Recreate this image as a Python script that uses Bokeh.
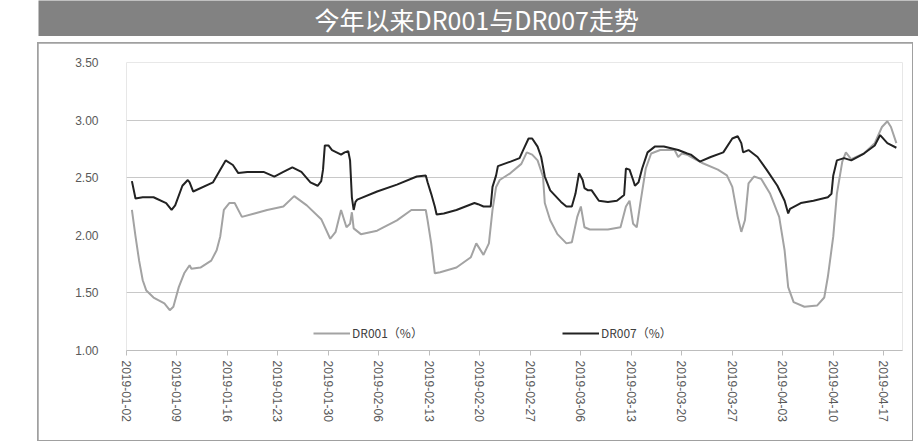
import pandas as pd
from bokeh.plotting import figure
from bokeh.layouts import column
from bokeh.models import (Range1d, FixedTicker, DatetimeTickFormatter, NumeralTickFormatter,
                          Legend, LegendItem)
from bokeh.core.properties import value
from bokeh.embed import file_html
from bokeh.resources import INLINE

title_text = "今年以来DR001与DR007走势"
name_dr001 = "DR001（%）"
name_dr007 = "DR007（%）"

tick_dates = ["2019-01-02", "2019-01-09", "2019-01-16", "2019-01-23", "2019-01-30",
              "2019-02-06", "2019-02-13", "2019-02-20", "2019-02-27", "2019-03-06",
              "2019-03-13", "2019-03-20", "2019-03-27", "2019-04-03", "2019-04-10",
              "2019-04-17"]
y_ticks = [1.0, 1.5, 2.0, 2.5, 3.0, 3.5]
grid_levels = [1.5, 2.5, 3.0]

dr007_time = [
    "2019-01-02 18:00", "2019-01-03 06:00", "2019-01-04 06:00", "2019-01-05 18:00", "2019-01-07 12:00",
    "2019-01-08 06:00", "2019-01-08 18:00", "2019-01-09 18:00", "2019-01-10 12:00", "2019-01-10 18:00",
    "2019-01-11 06:00", "2019-01-14 00:00", "2019-01-15 00:00", "2019-01-15 18:00", "2019-01-16 18:00",
    "2019-01-17 12:00", "2019-01-18 18:00", "2019-01-21 00:00", "2019-01-22 12:00", "2019-01-23 18:00",
    "2019-01-25 00:00", "2019-01-26 06:00", "2019-01-27 12:00", "2019-01-28 12:00", "2019-01-29 00:00",
    "2019-01-29 06:00", "2019-01-29 12:00", "2019-01-30 00:00", "2019-01-30 12:00", "2019-01-31 18:00",
    "2019-02-01 06:00", "2019-02-01 18:00", "2019-02-02 00:00", "2019-02-02 06:00", "2019-02-02 12:00",
    "2019-02-02 18:00", "2019-02-03 00:00", "2019-02-05 18:00", "2019-02-08 12:00", "2019-02-11 06:00",
    "2019-02-12 12:00", "2019-02-12 18:00", "2019-02-13 06:00", "2019-02-13 18:00", "2019-02-14 00:00",
    "2019-02-15 00:00", "2019-02-16 18:00", "2019-02-19 06:00", "2019-02-19 18:00", "2019-02-20 12:00",
    "2019-02-21 12:00", "2019-02-21 18:00", "2019-02-22 06:00", "2019-02-22 12:00", "2019-02-24 06:00",
    "2019-02-25 12:00", "2019-02-26 00:00", "2019-02-26 18:00", "2019-02-27 06:00", "2019-02-28 00:00",
    "2019-02-28 12:00", "2019-03-01 00:00", "2019-03-01 18:00", "2019-03-03 06:00", "2019-03-04 00:00",
    "2019-03-04 18:00", "2019-03-05 06:00", "2019-03-05 18:00", "2019-03-06 06:00", "2019-03-06 12:00",
    "2019-03-07 00:00", "2019-03-07 12:00", "2019-03-08 12:00", "2019-03-09 18:00", "2019-03-11 00:00",
    "2019-03-12 00:00", "2019-03-12 06:00", "2019-03-12 18:00", "2019-03-13 06:00", "2019-03-13 12:00",
    "2019-03-14 00:00", "2019-03-14 12:00", "2019-03-15 06:00", "2019-03-16 06:00", "2019-03-17 12:00",
    "2019-03-19 12:00", "2019-03-20 18:00", "2019-03-21 06:00", "2019-03-22 12:00", "2019-03-24 00:00",
    "2019-03-25 18:00", "2019-03-27 00:00", "2019-03-27 18:00", "2019-03-28 06:00", "2019-03-28 12:00",
    "2019-03-29 06:00", "2019-03-30 12:00", "2019-03-31 18:00", "2019-04-02 06:00", "2019-04-03 06:00",
    "2019-04-03 18:00", "2019-04-04 00:00", "2019-04-05 12:00", "2019-04-07 06:00", "2019-04-09 06:00",
    "2019-04-09 18:00", "2019-04-10 00:00", "2019-04-10 12:00", "2019-04-11 12:00", "2019-04-12 12:00",
    "2019-04-14 06:00", "2019-04-15 18:00", "2019-04-16 12:00", "2019-04-17 12:00", "2019-04-18 18:00"]
dr007 = [
    2.47, 2.32, 2.33, 2.33, 2.28, 2.22, 2.26, 2.43, 2.48, 2.46,
    2.38, 2.46, 2.57, 2.65, 2.61, 2.54, 2.55, 2.55, 2.51, 2.55,
    2.59, 2.55, 2.46, 2.43, 2.47, 2.57, 2.78, 2.78, 2.74, 2.70,
    2.72, 2.73, 2.65, 2.33, 2.22, 2.29, 2.31, 2.38, 2.44, 2.51,
    2.52, 2.46, 2.36, 2.25, 2.18, 2.19, 2.22, 2.28, 2.27, 2.25,
    2.25, 2.42, 2.52, 2.60, 2.64, 2.67, 2.74, 2.84, 2.84, 2.77,
    2.68, 2.51, 2.39, 2.29, 2.25, 2.25, 2.36, 2.54, 2.48, 2.41,
    2.39, 2.39, 2.30, 2.29, 2.30, 2.35, 2.58, 2.57, 2.48, 2.43,
    2.46, 2.58, 2.72, 2.77, 2.77, 2.74, 2.71, 2.70, 2.64, 2.68,
    2.72, 2.84, 2.86, 2.80, 2.72, 2.74, 2.68, 2.57, 2.43, 2.30,
    2.19, 2.23, 2.28, 2.30, 2.33, 2.36, 2.52, 2.65, 2.67, 2.65,
    2.71, 2.78, 2.87, 2.80, 2.76]

dr001_time = [
    "2019-01-02 18:00", "2019-01-03 06:00", "2019-01-03 18:00", "2019-01-04 06:00", "2019-01-04 18:00",
    "2019-01-05 18:00", "2019-01-07 06:00", "2019-01-08 00:00", "2019-01-08 12:00", "2019-01-09 06:00",
    "2019-01-10 00:00", "2019-01-10 18:00", "2019-01-11 00:00", "2019-01-12 06:00", "2019-01-13 18:00",
    "2019-01-14 12:00", "2019-01-15 00:00", "2019-01-15 12:00", "2019-01-16 06:00", "2019-01-17 00:00",
    "2019-01-18 00:00", "2019-01-19 18:00", "2019-01-21 12:00", "2019-01-23 18:00", "2019-01-25 06:00",
    "2019-01-27 00:00", "2019-01-29 00:00", "2019-01-30 06:00", "2019-01-31 00:00", "2019-01-31 18:00",
    "2019-02-01 06:00", "2019-02-01 12:00", "2019-02-02 00:00", "2019-02-02 06:00", "2019-02-02 12:00",
    "2019-02-03 12:00", "2019-02-05 18:00", "2019-02-08 12:00", "2019-02-10 12:00", "2019-02-12 12:00",
    "2019-02-12 18:00", "2019-02-13 06:00", "2019-02-13 18:00", "2019-02-14 12:00", "2019-02-16 18:00",
    "2019-02-18 18:00", "2019-02-19 12:00", "2019-02-20 00:00", "2019-02-20 12:00", "2019-02-21 06:00",
    "2019-02-21 18:00", "2019-02-22 06:00", "2019-02-22 18:00", "2019-02-24 06:00", "2019-02-25 18:00",
    "2019-02-26 12:00", "2019-02-27 06:00", "2019-02-28 00:00", "2019-02-28 18:00", "2019-03-01 00:00",
    "2019-03-01 18:00", "2019-03-02 18:00", "2019-03-04 00:00", "2019-03-04 18:00", "2019-03-05 12:00",
    "2019-03-06 00:00", "2019-03-06 12:00", "2019-03-07 06:00", "2019-03-09 18:00", "2019-03-11 12:00",
    "2019-03-12 06:00", "2019-03-12 18:00", "2019-03-13 06:00", "2019-03-13 18:00", "2019-03-14 06:00",
    "2019-03-15 00:00", "2019-03-15 18:00", "2019-03-17 00:00", "2019-03-19 00:00", "2019-03-19 12:00",
    "2019-03-20 00:00", "2019-03-20 18:00", "2019-03-21 06:00", "2019-03-22 18:00", "2019-03-25 00:00",
    "2019-03-26 06:00", "2019-03-27 00:00", "2019-03-27 18:00", "2019-03-28 06:00", "2019-03-28 18:00",
    "2019-03-29 06:00", "2019-03-30 00:00", "2019-03-31 00:00", "2019-04-01 06:00", "2019-04-02 12:00",
    "2019-04-03 06:00", "2019-04-03 18:00", "2019-04-04 12:00", "2019-04-06 00:00", "2019-04-07 18:00",
    "2019-04-08 18:00", "2019-04-09 06:00", "2019-04-10 00:00", "2019-04-10 12:00", "2019-04-11 06:00",
    "2019-04-11 18:00", "2019-04-12 12:00", "2019-04-14 06:00", "2019-04-15 18:00", "2019-04-16 18:00",
    "2019-04-17 12:00", "2019-04-18 00:00", "2019-04-18 18:00"]
dr001 = [
    2.22, 1.99, 1.78, 1.61, 1.52, 1.46, 1.41, 1.35, 1.38, 1.55,
    1.67, 1.74, 1.71, 1.72, 1.78, 1.87, 1.99, 2.22, 2.28, 2.28,
    2.16, 2.19, 2.22, 2.25, 2.34, 2.26, 2.14, 1.97, 2.03, 2.22,
    2.12, 2.07, 2.10, 2.20, 2.06, 2.01, 2.04, 2.13, 2.22, 2.22,
    2.13, 1.93, 1.67, 1.68, 1.72, 1.81, 1.93, 1.88, 1.83, 1.93,
    2.22, 2.42, 2.48, 2.54, 2.62, 2.72, 2.70, 2.65, 2.51, 2.28,
    2.13, 2.01, 1.93, 1.94, 2.16, 2.25, 2.07, 2.05, 2.05, 2.07,
    2.25, 2.30, 2.10, 2.07, 2.28, 2.58, 2.71, 2.74, 2.74, 2.68,
    2.71, 2.70, 2.68, 2.63, 2.57, 2.52, 2.42, 2.16, 2.03, 2.13,
    2.45, 2.51, 2.49, 2.36, 2.16, 1.87, 1.55, 1.42, 1.38, 1.39,
    1.46, 1.64, 1.99, 2.36, 2.64, 2.72, 2.66, 2.71, 2.80, 2.94,
    2.99, 2.94, 2.80]

# ---------------- title bar ----------------
head = figure(width=880, height=36, x_range=Range1d(0, 880), y_range=Range1d(0, 36),
              x_axis_type=None, y_axis_type=None, output_backend="svg",
              toolbar_location=None, min_border=0, margin=(0, 0, 0, 38))
head.background_fill_color = "#828282"
head.border_fill_color = "#828282"
head.outline_line_color = None
head.grid.visible = False
head.text(x=[276], y=[18], text=[title_text], text_align="left", text_baseline="middle",
          text_color="white", text_font=value("Noto Sans CJK SC"), text_font_size="25px")

# ---------------- chart ----------------
start = pd.Timestamp(tick_dates[0])
p = figure(width=874, height=397, x_axis_type="datetime", output_backend="svg",
           toolbar_location=None, min_border_left=88, min_border_right=10,
           min_border_top=19, min_border_bottom=90, margin=(1, 1, 1, 1),
           x_range=Range1d(start, start + pd.Timedelta(days=107.6)),
           y_range=Range1d(1.0, 3.5))
p.outline_line_color = None
p.background_fill_color = "white"
p.border_fill_color = "white"

r1 = p.line(pd.to_datetime(dr001_time), dr001, line_color="#a3a3a3", line_width=2)
r2 = p.line(pd.to_datetime(dr007_time), dr007, line_color="#222222", line_width=2)

p.xaxis.ticker = FixedTicker(ticks=[pd.Timestamp(t).value / 1e6 for t in tick_dates])
fmt = "%Y-%m-%d"
p.xaxis.formatter = DatetimeTickFormatter(microseconds=fmt, milliseconds=fmt, seconds=fmt,
                                          minsec=fmt, minutes=fmt, hourmin=fmt, hours=fmt,
                                          days=fmt, months=fmt, years=fmt)
p.xaxis.major_label_orientation = "vertical"
p.xaxis.axis_line_color = "#bdbdbd"
p.xaxis.major_tick_line_color = "#bdbdbd"
p.xaxis.major_tick_out = 5
p.xaxis.major_tick_in = 0
p.xaxis.minor_tick_line_color = None
p.xaxis.major_label_standoff = 5
p.xaxis.major_label_text_font = "Liberation Sans"
p.xaxis.major_label_text_font_size = "12px"
p.xaxis.major_label_text_color = "#595959"

p.yaxis.ticker = FixedTicker(ticks=y_ticks)
p.yaxis.formatter = NumeralTickFormatter(format="0.00")
p.yaxis.axis_line_color = None
p.yaxis.major_tick_line_color = None
p.yaxis.minor_tick_line_color = None
p.yaxis.major_label_standoff = 22
p.yaxis.major_label_text_font = "Liberation Sans"
p.yaxis.major_label_text_font_size = "12px"
p.yaxis.major_label_text_color = "#595959"

p.xgrid.visible = False
p.ygrid.ticker = FixedTicker(ticks=grid_levels)
p.ygrid.grid_line_color = "#c8c8c8"
p.ygrid.grid_line_width = 1

legend = Legend(items=[LegendItem(label=name_dr001, renderers=[r1]),
                       LegendItem(label=name_dr007, renderers=[r2])],
                location=(187, 9), orientation="horizontal", spacing=139,
                glyph_width=37, glyph_height=14, label_standoff=2, padding=0, margin=0,
                border_line_color=None, background_fill_alpha=0,
                label_text_font="Noto Sans CJK SC", label_text_font_size="12px",
                label_text_color="#404040")
p.add_layout(legend)

box = column(p, margin=(6, 0, 0, 37), styles={"background-color": "#a0a0a0"})
layout = column(head, box)
open("out.html", "w").write(file_html(layout, INLINE))
